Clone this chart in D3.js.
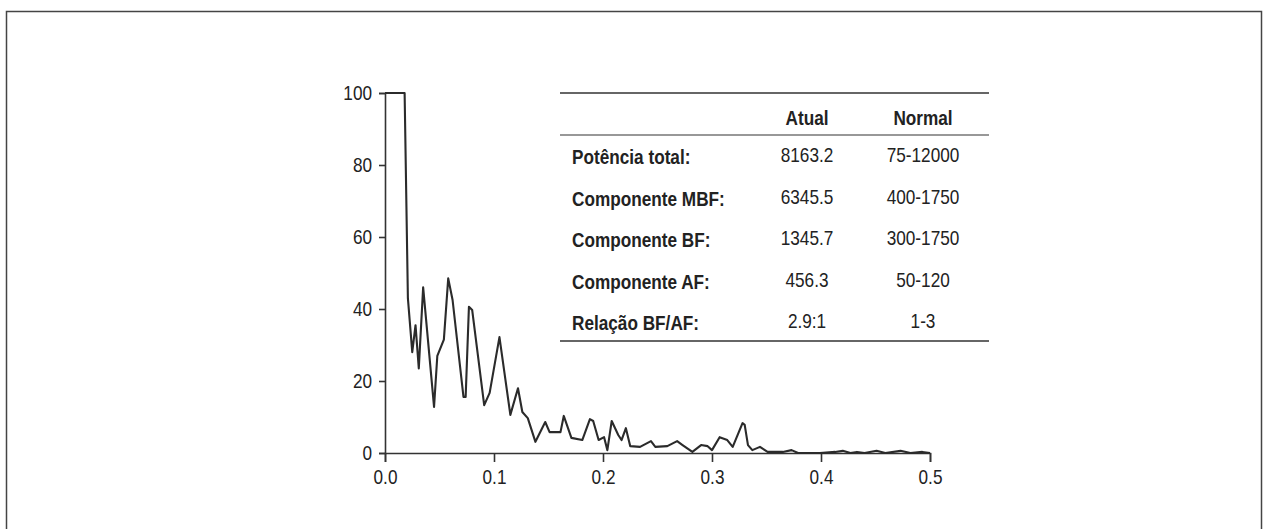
<!DOCTYPE html>
<html lang="en">
<head>
<meta charset="UTF-8">
<title>Espectro de potência</title>
<style>
    body, html {
        margin: 0;
        padding: 0;
        background: #fff;
    }
    svg text {
        font-family: "Liberation Sans", Arial, sans-serif;
        fill: #222;
    }
</style>
<script src="https://d3js.org/d3.v7.min.js"></script>
</head>
<body>
<div id="chart"></div>
<script>
// spectrum (frequency, power)
const freq = [0, 0.018, 0.021, 0.025, 0.028, 0.031, 0.035, 0.045, 0.048, 0.054,
    0.058, 0.062, 0.072, 0.074, 0.077, 0.080, 0.091, 0.096, 0.105, 0.115,
    0.122, 0.126, 0.131, 0.138, 0.147, 0.151, 0.161, 0.164, 0.171, 0.181,
    0.188, 0.191, 0.196, 0.201, 0.204, 0.208, 0.214, 0.217, 0.221, 0.225,
    0.234, 0.244, 0.248, 0.259, 0.268, 0.273, 0.282, 0.290, 0.296, 0.300,
    0.307, 0.314, 0.319, 0.328, 0.330, 0.333, 0.337, 0.344, 0.351, 0.365,
    0.373, 0.379, 0.399, 0.413, 0.420, 0.427, 0.433, 0.440, 0.451, 0.459,
    0.473, 0.482, 0.493, 0.500];
const power = [100, 100, 43, 28, 35.5, 23.5, 46, 12.8, 27, 31.5,
    48.5, 42.5, 15.6, 15.6, 40.6, 39.7, 13.3, 16.7, 32.2, 10.6,
    18, 11.4, 9.7, 3.1, 8.6, 5.8, 5.8, 10.3, 4.2, 3.6,
    9.4, 8.9, 3.6, 4.4, 0.8, 8.9, 5, 3.6, 6.9, 1.9,
    1.7, 3.3, 1.7, 1.9, 3.3, 2.2, 0.3, 2.2, 1.9, 0.8,
    4.4, 3.6, 1.7, 8.3, 7.8, 2.2, 0.8, 1.7, 0.3, 0.3,
    0.8, 0, 0, 0.3, 0.6, 0, 0.3, 0, 0.6, 0,
    0.6, 0, 0.3, 0];

const xTicks = [0, 0.1, 0.2, 0.3, 0.4, 0.5];
const yTicks = [0, 20, 40, 60, 80, 100];

// inset table
const tableHeader = ["Atual", "Normal"];
const rowLabels = ["Potência total:", "Componente MBF:", "Componente BF:", "Componente AF:", "Relação BF/AF:"];
const actualValues = ["8163.2", "6345.5", "1345.7", "456.3", "2.9:1"];
const normalValues = ["75-12000", "400-1750", "300-1750", "50-120", "1-3"];

const width = 1267, height = 529;
const squeeze = 0.86; // the original type is a narrow face

const svg = d3.select("#chart").append("svg")
    .attr("width", width)
    .attr("height", height)
    .style("display", "block");

// outer frame (bottom edge runs off the picture)
svg.append("rect")
    .attr("x", 6.5).attr("y", 11.5)
    .attr("width", 1255).attr("height", 540)
    .attr("fill", "none")
    .attr("stroke", "#444")
    .attr("stroke-width", 1.5);

const x = d3.scaleLinear().domain([0, 0.5]).range([385, 930]);
const y = d3.scaleLinear().domain([0, 100]).range([453, 93]);

const xAxis = svg.append("g")
    .attr("transform", `translate(0,${y(0)})`)
    .call(d3.axisBottom(x).tickValues(xTicks).tickFormat(d3.format(".1f"))
        .tickSizeOuter(0).tickSize(9).tickPadding(8));

const yAxis = svg.append("g")
    .attr("transform", `translate(${x(0)},0)`)
    .call(d3.axisLeft(y).tickValues(yTicks).tickSizeOuter(0).tickSize(6).tickPadding(7));

[xAxis, yAxis].forEach(g => {
    g.select(".domain").attr("stroke", "#333").attr("stroke-width", 1.6);
    g.selectAll(".tick line").attr("stroke", "#333").attr("stroke-width", 1.6);
    g.selectAll(".tick text")
        .style("font-size", "20px")
        .attr("fill", "#222");
});
// narrow the tick labels without moving their anchor
yAxis.selectAll(".tick text")
    .attr("x", -13 / squeeze)
    .attr("transform", `scale(${squeeze},1)`);
xAxis.selectAll(".tick text")
    .attr("transform", `scale(${squeeze},1)`);

const line = d3.line()
    .x((d, i) => x(freq[i]))
    .y(d => y(d));

svg.append("path")
    .datum(power)
    .attr("d", line)
    .attr("fill", "none")
    .attr("stroke", "#2b2b2b")
    .attr("stroke-width", 2.1)
    .attr("stroke-linejoin", "round");

// table
const tbl = svg.append("g");
const tLeft = 560, tRight = 989;
const colX = [807, 923];
const rowY = d3.range(rowLabels.length).map(i => 157 + i * 41.5);

[93, 135, 341].forEach(yy => {
    tbl.append("line")
        .attr("x1", tLeft).attr("x2", tRight)
        .attr("y1", yy).attr("y2", yy)
        .attr("stroke", "#333")
        .attr("stroke-width", yy === 135 ? 1.2 : 1.6);
});

function cell(txt, cx, cy, anchor, bold) {
    tbl.append("text")
        .attr("transform", `translate(${cx},${cy}) scale(${squeeze},1)`)
        .attr("text-anchor", anchor)
        .style("font-size", "20px")
        .style("font-weight", bold ? "bold" : "normal")
        .text(txt);
}

tableHeader.forEach((h, i) => cell(h, colX[i], 125, "middle", true));
rowLabels.forEach((l, i) => cell(l, 572, rowY[i] + 7, "start", true));
actualValues.forEach((v, i) => cell(v, colX[0], rowY[i] + 5, "middle", false));
normalValues.forEach((v, i) => cell(v, colX[1], rowY[i] + 5, "middle", false));
</script>
</body>
</html>
